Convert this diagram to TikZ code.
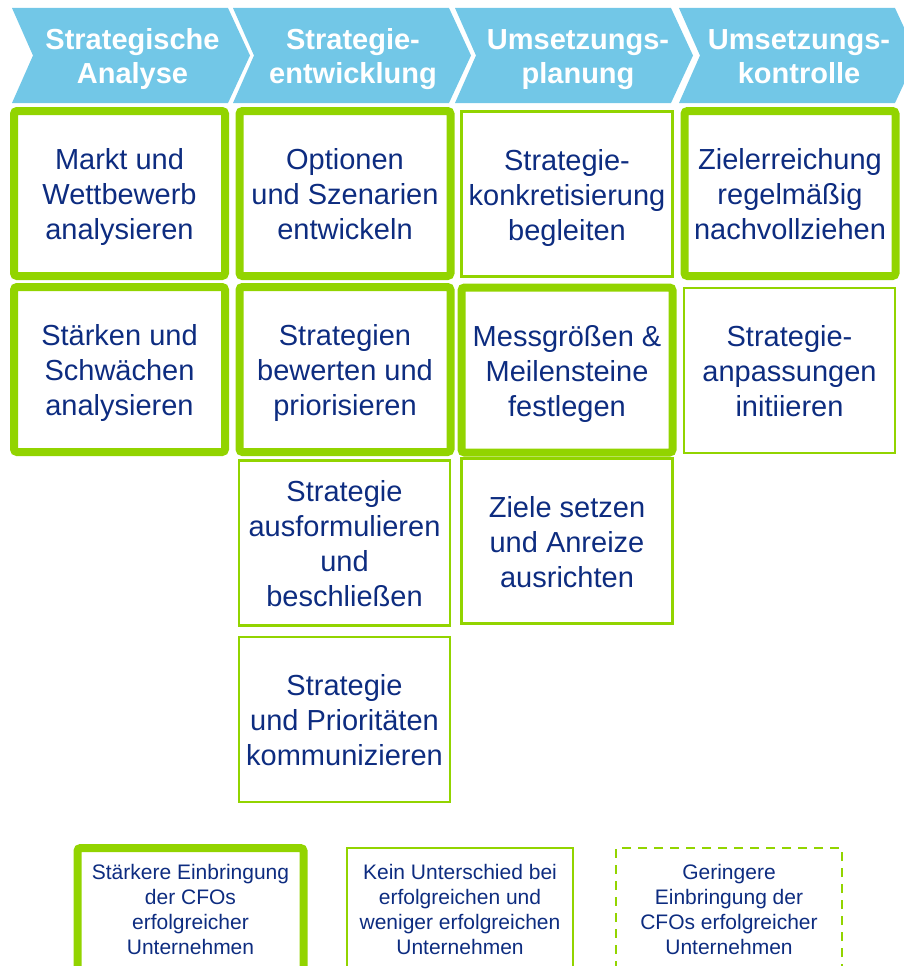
\documentclass[tikz,border=0pt]{standalone}
\usepackage{fontspec}
\setmainfont{Liberation Sans}
\definecolor{kopfblau}{HTML}{72C7E7}
\definecolor{gruen}{HTML}{92D400}
\definecolor{textblau}{HTML}{0D2C80}
% Stuetzen fuer gleichmaessige Zeilenlage
\newcommand{\kopfoben}{\rule{0pt}{23pt}}
\newcommand{\kopfunten}{\rule[-10pt]{0pt}{10pt}}
\newcommand{\feldoben}{\rule{0pt}{32.5pt}}
\newcommand{\feldunten}{\rule[-10.5pt]{0pt}{10.5pt}}
\begin{document}
\begin{tikzpicture}[x=1pt,y=-1pt,line join=miter,
  every node/.style={inner sep=0pt,align=center,text=textblau},
  kopf/.style={text=white,font=\bfseries\fontsize{29}{33}\selectfont},
  feld/.style={minimum width=211pt,minimum height=165pt,font=\fontsize{29}{35}\selectfont},
  stark/.style={feld,draw=gruen,line width=8pt,rounded corners=3pt},
  gleich/.style={feld,draw=gruen,line width=2.5pt},
  legende/.style={minimum width=226pt,minimum height=123pt,font=\fontsize{21}{25}\selectfont},
  schwach/.style={legende,draw=gruen,line width=2.5pt,dash pattern=on 9pt off 7pt}]
  \useasboundingbox (0,0) rectangle (904,966);
  % Kopfzeile
  \fill[kopfblau] (12,8) -- ++(216,0) -- ++(22,47.5) -- ++(-22,47.5) -- ++(-216,0) -- ++(21,-47.5) -- cycle;
  \fill[kopfblau] (233,8) -- ++(216,0) -- ++(22,47.5) -- ++(-22,47.5) -- ++(-216,0) -- ++(21,-47.5) -- cycle;
  \fill[kopfblau] (455,8) -- ++(216,0) -- ++(22,47.5) -- ++(-22,47.5) -- ++(-216,0) -- ++(21,-47.5) -- cycle;
  \fill[kopfblau] (679,8) -- ++(216,0) -- ++(22,47.5) -- ++(-22,47.5) -- ++(-216,0) -- ++(21,-47.5) -- cycle;
  \node[kopf] (analyse) at (132.5,60) {\kopfoben Strategische\\Analyse\kopfunten};
  \node[kopf] (entwicklung) at (353,60) {\kopfoben Strategie-\\entwicklung\kopfunten};
  \node[kopf] (planung) at (578,60) {\kopfoben Umsetzungs-\\planung\kopfunten};
  \node[kopf] (kontrolle) at (799,60) {\kopfoben Umsetzungs-\\kontrolle\kopfunten};
  % Felder
  \node[stark] (markt) at (119.5,193.5) {\feldoben Markt und\\Wettbewerb\\analysieren\feldunten};
  \node[stark] (optionen) at (345,193.5) {\feldoben Optionen\\und Szenarien\\entwickeln\feldunten};
  \node[gleich] (konkret) at (567,194) {\feldoben Strategie-\\konkretisierung\\begleiten\feldunten};
  \node[stark] (ziel) at (790,193.5) {\feldoben Zielerreichung\\regelmäßig\\nachvollziehen\feldunten};
  \node[stark] (staerken) at (119.5,369.5) {\feldoben Stärken und\\Schwächen\\analysieren\feldunten};
  \node[stark] (bewerten) at (345,369.5) {\feldoben Strategien\\bewerten und\\priorisieren\feldunten};
  \node[stark] (mess) at (567,370) {\feldoben Messgrößen \&\\Meilensteine\\festlegen\feldunten};
  \node[gleich] (anpassung) at (789.5,370.5) {\feldoben Strategie-\\anpassungen\\initiieren\feldunten};
  \node[gleich] (ausform) at (344.5,543) {\feldoben Strategie\\ausformulieren\\und\\beschließen\feldunten};
  \node[gleich] (anreize) at (567,541) {\feldoben Ziele setzen\\und Anreize\\ausrichten\feldunten};
  \node[gleich] (kommun) at (344.5,719.5) {\feldoben Strategie\\und Prioritäten\\kommunizieren\feldunten};
  % Legende
  \node[legende,draw=gruen,line width=8pt,rounded corners=3pt] (staerker) at (190.5,909.5)
    {Stärkere Einbringung\\der CFOs\\erfolgreicher\\Unternehmen};
  \node[legende,draw=gruen,line width=2.5pt] (keinunt) at (460,909.5)
    {Kein Unterschied bei\\erfolgreichen und\\weniger erfolgreichen\\Unternehmen};
  \node[schwach] (geringer) at (729,909.5)
    {Geringere\\Einbringung der\\CFOs erfolgreicher\\Unternehmen};
\end{tikzpicture}
\end{document}
